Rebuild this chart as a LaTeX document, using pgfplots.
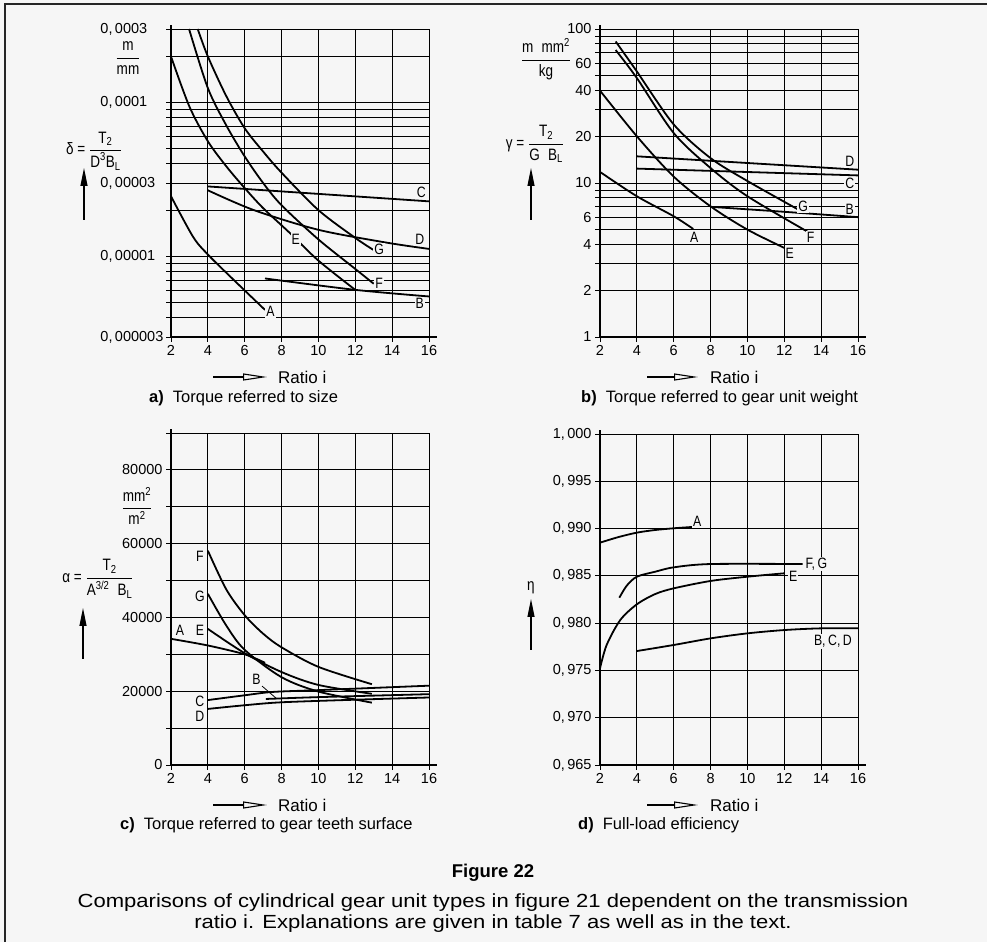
\documentclass[border=0pt]{standalone}
\usepackage{fontspec}
\usepackage{amsmath}
\usepackage{pgfplots}
\pgfplotsset{compat=1.18}
\usetikzlibrary{arrows.meta}
\setmainfont{Liberation Sans}
\newfontfamily\iso[FakeStretch=0.82]{Liberation Sans}
\newfontfamily\wide[FakeStretch=1.16]{Liberation Sans}
\definecolor{bg}{RGB}{246,246,246}
\newcommand\tx[1]{\text{\iso #1}}

\pgfplotsset{
  gear/.style={
    scale only axis, width=258pt,
    anchor=south west,
    xmin=2, xmax=16, xtick={2,4,...,16},
    axis lines=left,
    axis line style={-, line width=1.5pt},
    x axis line style={shorten >=-8pt},
    y axis line style={shorten >=-4pt},
    tick align=outside, major tick length=5pt,
    tick style={black, line width=0.9pt},
    minor tick num=0,
    grid=major,
    grid style={black, line width=0.9pt},
    tick label style={font=\fontsize{14.5}{14.5}\selectfont},
    /pgf/number format/assume math mode=true,
    scaled y ticks=false,
    enlargelimits=false,
  },
  curve/.style={black, line width=1.8pt, smooth, no markers},
}
\tikzset{lbl/.style={font=\iso\fontsize{15}{15}\selectfont, fill=bg, inner sep=1pt}}

\begin{document}
\begin{tikzpicture}
\path[use as bounding box, fill=bg] (0pt,0pt) rectangle (987pt,942pt);
\draw[line width=1.6pt, black!85] (5pt,0pt) -- (5pt,938pt) -- (987pt,938pt);

% ---------------- a) ----------------
\begin{axis}[gear, at={(171pt,605pt)}, height=308pt,
  ymode=log, ymin=3e-6, ymax=3e-4,
  ytick={3e-6,4e-6,5e-6,6e-6,7e-6,8e-6,9e-6,1e-5,2e-5,3e-5,4e-5,5e-5,6e-5,7e-5,8e-5,9e-5,1e-4,2e-4,3e-4},
  yticklabels={0{,}\,000003,{},{},{},{},{},{},0{,}\,00001,{},0{,}\,00003,{},{},{},{},{},{},0{,}\,0001,{},0{,}\,0003},
  yticklabel style={text width=62pt, align=left},
]
\addplot[curve] coordinates {(2,2.46e-5) (3.2,1.34e-5) (4,1.03e-5) (5.4,7.05e-6) (7.1,4.5e-6)};
\addplot[curve] coordinates {(2,1.99e-4) (3,9.4e-5) (4,5.6e-5) (5,3.85e-5) (6,2.78e-5) (7,2.06e-5) (8.45,1.42e-5) (10,9.4e-6) (12,6.07e-6)};
\addplot[curve] coordinates {(2.98,3e-4) (4,1.24e-4) (5,7.1e-5) (6,4.46e-5) (7,3.0e-5) (8,2.15e-5) (10,1.29e-5) (12,8.3e-6) (13,6.65e-6)};
\addplot[curve] coordinates {(3.45,3e-4) (4,1.99e-4) (5,1.1e-4) (6,6.8e-5) (7,4.8e-5) (8,3.5e-5) (10,2.0e-5) (12,1.32e-5) (13,1.1e-5)};
\addplot[curve] coordinates {(4,2.85e-5) (16,2.28e-5)};
\addplot[curve] coordinates {(4,2.69e-5) (6.5,2.0e-5) (10,1.49e-5) (13.7,1.23e-5) (16,1.12e-5)};
\addplot[curve] coordinates {(7.1,7.2e-6) (12,6.07e-6) (16,5.5e-6)};
\node[lbl] at (axis cs:7.4,4.4e-6) {A};
\node[lbl] at (axis cs:15.58,2.61e-5) {C};
\node[lbl] at (axis cs:15.5,1.29e-5) {D};
\node[lbl] at (axis cs:13.29,1.12e-5) {G};
\node[lbl] at (axis cs:13.29,6.7e-6) {F};
\node[lbl] at (axis cs:15.5,4.93e-6) {B};
\node[lbl] at (axis cs:8.77,1.3e-5) {E};
\end{axis}

% ---------------- b) ----------------
\begin{axis}[gear, at={(600pt,605pt)}, height=308pt,
  ymode=log, ymin=1, ymax=100,
  ytick={1,2,3,4,5,6,7,8,9,10,20,30,40,50,60,70,80,90,100},
  yticklabels={1,2,{},4,{},6,{},{},{},10,20,{},40,{},60,{},{},{},100},
]
\addplot[curve] coordinates {(2,11.8) (4,8.2) (6,6.08) (7.06,5.03)};
\addplot[curve] coordinates {(2,39.8) (4,20.1) (6,11) (8,7.05) (10,4.98) (12,3.79)};
\addplot[curve] coordinates {(2.85,73) (4,48) (6,21.1) (8,12.5) (10,8.2) (13.3,4.8)};
\addplot[curve] coordinates {(2.85,83) (4,53) (6,24) (8,14.5) (10,10.3) (12.7,6.78)};
\addplot[curve] coordinates {(4,14.9) (16,12.2)};
\addplot[curve] coordinates {(4,12.4) (16,11.2)};
\addplot[curve] coordinates {(8,7.0) (12,6.5) (16,6.0)};
\node[lbl] at (axis cs:15.55,13.8) {D};
\node[lbl] at (axis cs:15.55,10) {C};
\node[lbl] at (axis cs:13.02,7.05) {G};
\node[lbl] at (axis cs:15.55,6.78) {B};
\node[lbl] at (axis cs:13.43,4.46) {F};
\node[lbl] at (axis cs:12.3,3.51) {E};
\node[lbl] at (axis cs:7.11,4.46) {A};
\end{axis}

% ---------------- c) ----------------
\begin{axis}[gear, at={(171pt,177pt)}, height=332pt,
  ymin=0, ymax=90000,
  ytick={0,10000,20000,30000,40000,50000,60000,70000,80000,90000},
  yticklabels={0,{},20000,{},40000,{},60000,{},80000,{}},
]
\addplot[curve] coordinates {(2,34200) (4,32400) (6,30000) (7.1,27700)};
\addplot[curve] coordinates {(4,58100) (5,47600) (6,40600) (7,35600) (8,31900) (10,26600) (12.9,21900)};
\addplot[curve] coordinates {(4,46400) (5,37800) (6,31200) (8,23800) (10,19900) (12.9,16900)};
\addplot[curve] coordinates {(4,36900) (6,30300) (8,25200) (10,21700) (12.9,19300)};
\addplot[curve] coordinates {(4,17600) (6,18900) (7.5,19800) (10,20300) (16,21500)};
\addplot[curve] coordinates {(4,15200) (6,16200) (8,17000) (12,17700) (16,18300)};
\addplot[curve] coordinates {(7.15,17900) (10,18400) (16,19200)};
\draw[black, line width=0.8pt] (axis cs:6.94,21400) -- (axis cs:7.75,17900);
\node[lbl] at (axis cs:3.57,56700) {F};
\node[lbl] at (axis cs:3.57,45650) {G};
\node[lbl] at (axis cs:3.57,36600) {E};
\node[lbl] at (axis cs:2.49,36600) {A};
\node[lbl] at (axis cs:6.64,23200) {B};
\node[lbl] at (axis cs:3.57,17200) {C};
\node[lbl] at (axis cs:3.57,13100) {D};
\end{axis}

% ---------------- d) ----------------
\begin{axis}[gear, at={(600pt,177pt)}, height=331pt,
  ymin=0.965, ymax=1.0,
  ytick={0.965,0.970,0.975,0.980,0.985,0.990,0.995,1.000},
  yticklabels={0{,}\,965,0{,}\,970,0{,}\,975,0{,}\,980,0{,}\,985,0{,}\,990,0{,}\,995,1{,}\,000},
]
\addplot[curve] coordinates {(2,0.98851) (3,0.98910) (4,0.98957) (5,0.98985) (6,0.99003) (7,0.99017)};
\addplot[curve] coordinates {(3.05,0.98269) (3.45,0.98396) (4,0.98491) (5,0.98544) (6,0.98590) (8,0.98625) (13,0.98625)};
\addplot[curve] coordinates {(2,0.97522) (2.36,0.97769) (3.1,0.98033) (4,0.98199) (5,0.98308) (6,0.98368) (8,0.98446) (10,0.98491) (12,0.98527)};
\addplot[curve] coordinates {(4,0.97705) (6,0.97769) (8,0.97839) (10,0.97892) (12,0.97927) (14,0.97945) (16,0.97945)};
\node[lbl] at (axis cs:7.27,0.99073) {A};
\node[lbl] at (axis cs:13.74,0.98625) {F,\,G};
\node[lbl] at (axis cs:12.48,0.98498) {E};
\node[lbl] at (axis cs:14.64,0.97804) {B,\,C,\,D};
\end{axis}

% ---------------- axis quantity labels ----------------
\begin{scope}[every node/.style={font=\iso\fontsize{16.5}{16.5}\selectfont, inner sep=0pt}]
\node at (94pt,791pt) {δ = $\dfrac{\tx{T}_{\tx{2}}}{\tx{D}^{\tx{3}}\tx{B}_{\tx{L}}}$};
\node at (128pt,884pt) {$\dfrac{\tx{m}}{\tx{mm}}$};
\node at (535pt,798pt) {γ = $\dfrac{\tx{T}_{\tx{2}}}{\tx{G\enspace B}_{\tx{L}}}$};
\node at (546pt,883pt) {$\dfrac{\tx{m\enspace mm}^{\tx{2}}}{\tx{kg}}$};
\node at (98pt,363pt) {α = $\dfrac{\tx{T}_{\tx{2}}}{\tx{A}^{\tx{3/2}}\enspace\tx{B}_{\tx{L}}}$};
\node at (137pt,436pt) {$\dfrac{\tx{mm}^{\tx{2}}}{\tx{m}^{\tx{2}}}$};
\node at (531pt,354pt) {η};
\end{scope}

% arrows
\begin{scope}[line width=1.1pt]
\draw[-{Triangle[length=18pt,width=7pt]}] (84pt,722pt) -- (84pt,774pt);
\draw[-{Triangle[length=18pt,width=7pt]}] (531pt,722pt) -- (531pt,774pt);
\draw[-{Triangle[length=18pt,width=7pt]}] (83pt,283pt) -- (83pt,334pt);
\draw[-{Triangle[length=18pt,width=7pt]}] (531pt,292pt) -- (531pt,343pt);
\draw[-{Triangle[open,length=24pt,width=7pt]}] (213pt,565pt) -- (267pt,565pt);
\draw[-{Triangle[open,length=24pt,width=7pt]}] (647pt,565pt) -- (698pt,565pt);
\draw[-{Triangle[open,length=24pt,width=7pt]}] (213pt,137pt) -- (267pt,137pt);
\draw[-{Triangle[open,length=24pt,width=7pt]}] (647pt,137pt) -- (698pt,137pt);
\end{scope}

\begin{scope}[every node/.style={font=\fontsize{17}{18}\selectfont, inner sep=0pt, anchor=west}]
\node at (278pt,565pt) {Ratio i};
\node at (710pt,565pt) {Ratio i};
\node at (278pt,137pt) {Ratio i};
\node at (710pt,137pt) {Ratio i};
\end{scope}

\begin{scope}[every node/.style={font=\fontsize{16.5}{18}\selectfont, inner sep=0pt, anchor=west}]
\node at (149pt,544pt) {\textbf{a)}\hspace{0.55em}Torque referred to size};
\node at (581pt,544pt) {\textbf{b)}\hspace{0.55em}Torque referred to gear unit weight};
\node at (120pt,117pt) {\textbf{c)}\hspace{0.55em}Torque referred to gear teeth surface};
\node at (578pt,117pt) {\textbf{d)}\hspace{0.55em}Full-load efficiency};
\end{scope}

\node[font=\bfseries\fontsize{18.5}{20}\selectfont, inner sep=0pt, anchor=base] at (493pt,65pt) {Figure 22};
\node[font=\wide\fontsize{19}{19}\selectfont, inner sep=0pt, anchor=base] at (493pt,35pt)
  {Comparisons of cylindrical gear unit types in figure 21 dependent on the transmission};
\node[font=\wide\fontsize{19}{19}\selectfont, inner sep=0pt, anchor=base] at (493pt,14pt)
  {ratio i. Explanations are given in table 7 as well as in the text.};
\end{tikzpicture}
\end{document}
